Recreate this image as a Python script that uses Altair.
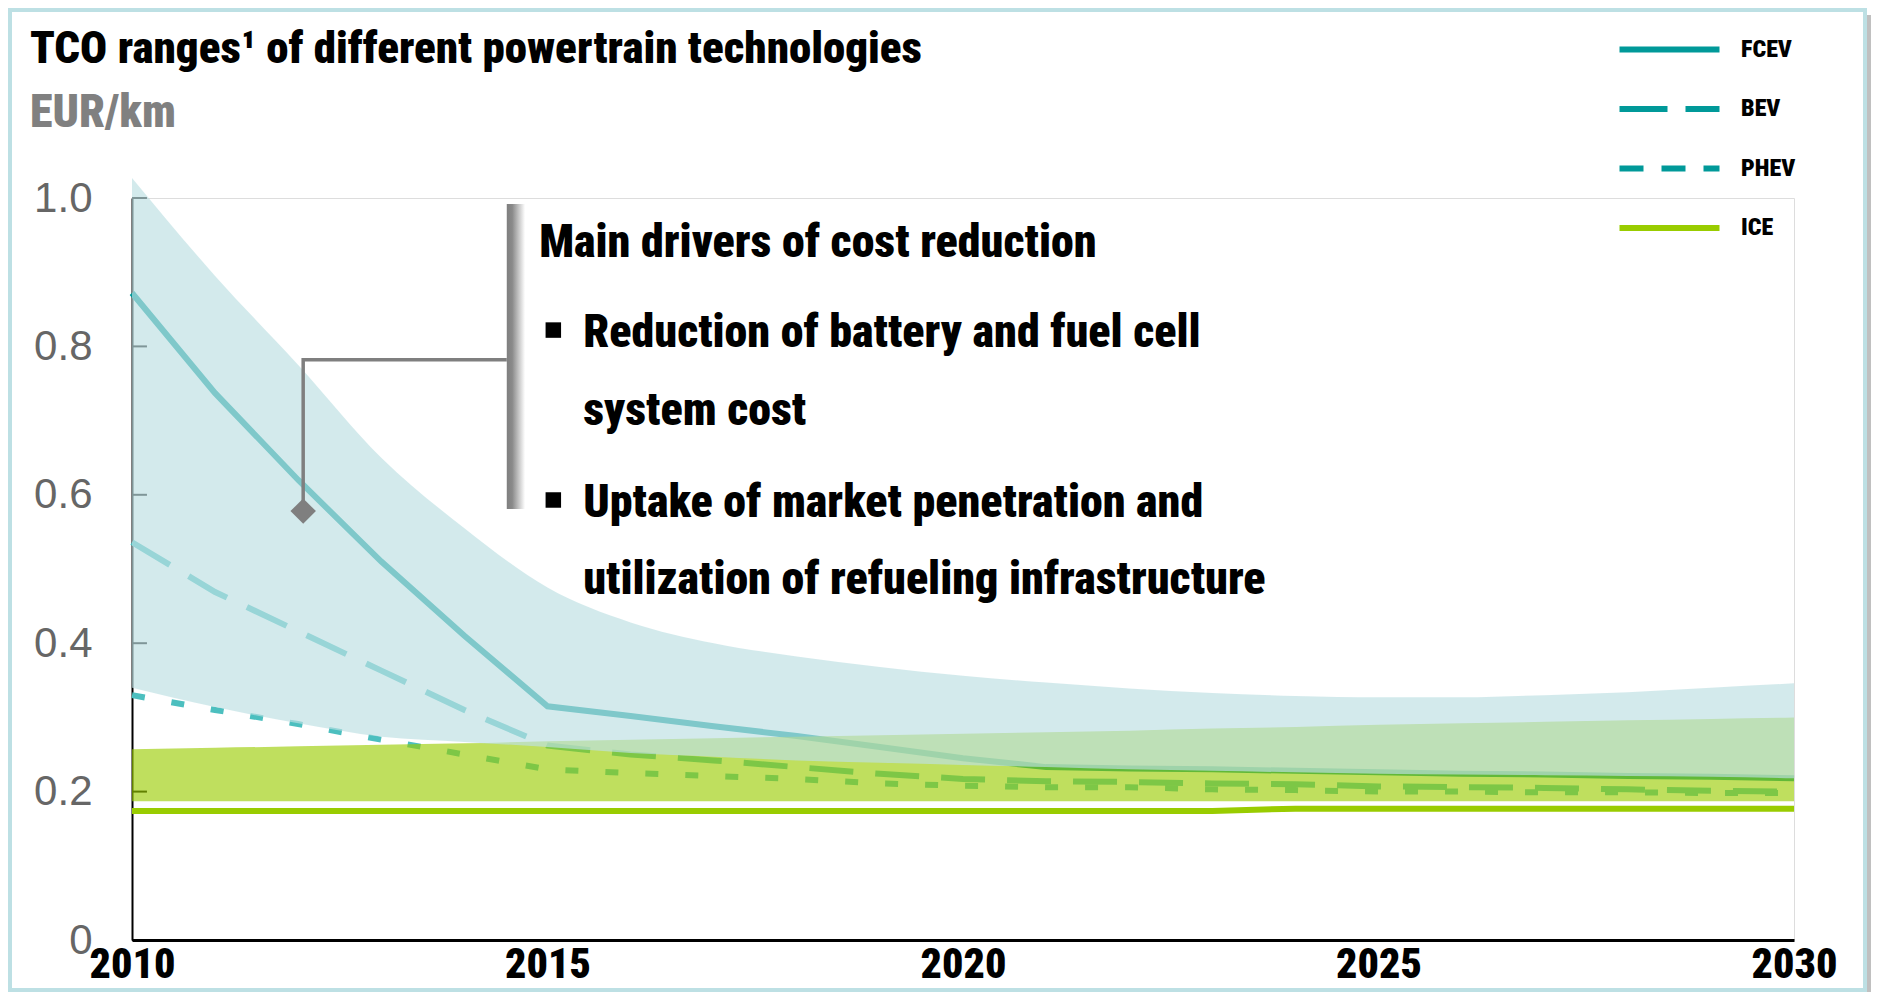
import altair as alt
import pandas as pd

# ---------------- data ----------------
years = [2010, 2011, 2012, 2013, 2014, 2015, 2016, 2017, 2018, 2019, 2020,
         2021, 2022, 2023, 2024, 2025, 2026, 2027, 2028, 2029, 2030]

fcev = [0.872, 0.737, 0.620, 0.510, 0.410, 0.315, 0.302, 0.288, 0.275, 0.260, 0.245,
        0.233, 0.231, 0.230, 0.228, 0.226, 0.224, 0.223, 0.221, 0.220, 0.218]
bev = [0.536, 0.469, 0.416, 0.363, 0.310, 0.262, 0.250, 0.242, 0.233, 0.224, 0.217,
       0.214, 0.213, 0.211, 0.210, 0.207, 0.206, 0.205, 0.203, 0.201, 0.200]
phev = [0.330, 0.310, 0.291, 0.270, 0.250, 0.230, 0.225, 0.221, 0.217, 0.211, 0.208,
        0.206, 0.206, 0.203, 0.202, 0.200, 0.200, 0.199, 0.199, 0.198, 0.198]
ice = [0.174, 0.174, 0.174, 0.174, 0.174, 0.174, 0.174, 0.174, 0.174, 0.174, 0.174,
       0.174, 0.174, 0.174, 0.177, 0.177, 0.177, 0.177, 0.177, 0.177, 0.177]

# ranges (bands)
ev_high = [1.027, 0.895, 0.775, 0.650, 0.555, 0.475, 0.428, 0.400, 0.382, 0.368, 0.356,
           0.347, 0.339, 0.333, 0.329, 0.327, 0.327, 0.330, 0.334, 0.340, 0.346]
ev_low = [0.340, 0.314, 0.292, 0.274, 0.267, 0.260, 0.252, 0.247, 0.242, 0.239, 0.236,
          0.233, 0.230, 0.228, 0.226, 0.224, 0.223, 0.222, 0.221, 0.220, 0.218]
ice_high = [0.257, 0.259, 0.261, 0.263, 0.265, 0.268, 0.270, 0.272, 0.274, 0.276, 0.278,
            0.280, 0.282, 0.285, 0.287, 0.290, 0.292, 0.294, 0.296, 0.298, 0.300]
ice_low = [0.187, 0.187, 0.187, 0.187, 0.187, 0.187, 0.187, 0.187, 0.187, 0.187, 0.187,
           0.187, 0.187, 0.187, 0.187, 0.187, 0.187, 0.187, 0.187, 0.187, 0.187]

series_names = ["FCEV", "BEV", "PHEV", "ICE"]
legend_colors = ["#009999", "#009999", "#009999", "#99cc00"]

x_ticks = [2010, 2015, 2020, 2025, 2030]
y_ticks = [0.0, 0.2, 0.4, 0.6, 0.8, 1.0]

# annotation (data coordinates)
ann_title = ["Main drivers of cost reduction"]
ann_title_pos = [(2014.9, 0.940)]
bullet_pos = [(2015.07, 0.822), (2015.07, 0.593)]
bullet_lines = ["Reduction of battery and fuel cell", "system cost",
                "Uptake of market penetration and", "utilization of refueling infrastructure"]
bullet_line_y = [0.818, 0.713, 0.589, 0.485]
bullet_text_x = 2015.43
connector_x = [2014.51, 2012.06, 2012.06]
connector_y = [0.782, 0.782, 0.585]
marker_pos = [(2012.06, 0.578)]
bar_x = [2014.51, 2014.73]
bar_y = [0.581, 0.992]

# ---------------- tables ----------------
lines_df = pd.DataFrame({
    "year": years * 4,
    "value": fcev + bev + phev + ice,
    "series": ["FCEV"] * len(years) + ["BEV"] * len(years) + ["PHEV"] * len(years) + ["ICE"] * len(years),
})
bands_df = pd.DataFrame({"year": years, "ev_low": ev_low, "ev_high": ev_high,
                         "ice_low": ice_low, "ice_high": ice_high})
yt_df = pd.DataFrame({"v": y_ticks, "x0": [2010] * len(y_ticks), "x1": [2010.18] * len(y_ticks)})

COND = "'Noto Sans Condensed', 'Noto Sans ExtraCondensed', 'Roboto Condensed', Roboto, sans-serif"
REG = "Liberation Sans, Arial, sans-serif"
HEAVY = 900

xscale = alt.Scale(domain=[2010, 2030], nice=False, zero=False)
yscale = alt.Scale(domain=[0, 1], nice=False, zero=True)
xaxis = alt.Axis(values=x_ticks, format="d", title=None, grid=False, ticks=False, tickSize=0,
                 labelFont=COND, labelFontWeight=HEAVY, labelFontSize=42, labelColor="black",
                 labelPadding=4, labelFlush=False, labelOverlap=False,
                 domainColor="black", domainWidth=3)
yaxis = alt.Axis(values=y_ticks, title=None, grid=False, ticks=False, tickSize=0,
                 labelExpr="datum.value == 0 ? '0' : format(datum.value, '.1f')",
                 labelFont=REG, labelFontSize=42, labelColor="#666666", labelPadding=40,
                 domainColor="black", domainWidth=2)


def X(f):
    return alt.X(f, type="quantitative", scale=xscale, axis=xaxis)


def Y(f):
    return alt.Y(f, type="quantitative", scale=yscale, axis=yaxis)


one = pd.DataFrame({"k": [0]})

# frame decoration
frame = alt.Chart(one).mark_rect(fillOpacity=0, stroke="#bde0e4", strokeWidth=4).encode(
    x=alt.value(-122), x2=alt.value(1733), y=alt.value(-188), y2=alt.value(792))
shadow = alt.Chart(one).mark_rect(color="#c0c0c0").encode(
    x=alt.value(1735), x2=alt.value(1739), y=alt.value(-183), y2=alt.value(794))

inner_ticks = alt.Chart(yt_df).mark_rule(color="black", strokeWidth=2).encode(
    x=X("x0"), x2="x1", y=Y("v"))

base_lines = alt.Chart(lines_df)
fcev_line = base_lines.transform_filter("datum.series == 'FCEV'").mark_line(
    color="#009999", strokeWidth=6).encode(x=X("year"), y=Y("value"))
bev_line = base_lines.transform_filter("datum.series == 'BEV'").mark_line(
    color="#4cbfbf", strokeWidth=6, strokeDash=[44, 22]).encode(x=X("year"), y=Y("value"))
phev_line = base_lines.transform_filter("datum.series == 'PHEV'").mark_line(
    color="#4cbfbf", strokeWidth=6, strokeDash=[13, 27]).encode(x=X("year"), y=Y("value"))
ice_line = base_lines.transform_filter("datum.series == 'ICE'").mark_line(
    color="#99cc00", strokeWidth=6).encode(x=X("year"), y=Y("value"))

ice_band = alt.Chart(bands_df).mark_area(color="#99cc00", opacity=0.63, interpolate="monotone").encode(
    x=X("year"), y=Y("ice_low"), y2="ice_high")
ev_band = alt.Chart(bands_df).mark_area(color="rgb(190,224,227)", opacity=0.67, interpolate="monotone").encode(
    x=X("year"), y=Y("ev_low"), y2="ev_high")

leg = alt.Legend(title=None, orient="none", legendX=1522, legendY=-164, padding=0,
                 symbolType="M-4,0H4", symbolSize=625, symbolStrokeWidth=6, symbolOpacity=1,
                 labelFont=COND, labelFontWeight=HEAVY, labelFontSize=24, labelColor="black",
                 labelOffset=56, rowPadding=31.5, direction="vertical", columns=1)
legend_layer = base_lines.mark_line(opacity=0).encode(
    x=X("year"), y=Y("value"),
    color=alt.Color("series:N", scale=alt.Scale(domain=series_names, range=legend_colors), legend=leg),
    strokeDash=alt.StrokeDash("series:N", scale=alt.Scale(domain=series_names,
                              range=[[1, 0], [48, 18], [24, 18], [1, 0]]), legend=leg),
)

# annotation
bar_df = pd.DataFrame({"x0": [bar_x[0]], "x1": [bar_x[1]], "y0": [bar_y[0]], "y1": [bar_y[1]]})
grad = alt.LinearGradient(gradient="linear", x1=0, x2=1, y1=0, y2=0,
                          stops=[alt.GradientStop(color="#7f7f7f", offset=0),
                                 alt.GradientStop(color="#8a8a8a", offset=0.3),
                                 alt.GradientStop(color="#ffffff", offset=1)])
bar = alt.Chart(bar_df).mark_rect(color=grad).encode(x=X("x0"), x2="x1", y=Y("y0"), y2="y1")

conn_df = pd.DataFrame({"x": connector_x, "y": connector_y, "o": [0, 1, 2]})
connector = alt.Chart(conn_df).mark_line(color="#7f7f7f", strokeWidth=3.5).encode(
    x=X("x"), y=Y("y"), order="o:Q")
marker_df = pd.DataFrame({"x": [p[0] for p in marker_pos], "y": [p[1] for p in marker_pos]})
marker = alt.Chart(marker_df).mark_point(shape="diamond", filled=True, size=650,
                                         color="#7f7f7f", opacity=1).encode(x=X("x"), y=Y("y"))

title_df = pd.DataFrame({"x": [p[0] for p in ann_title_pos], "y": [p[1] for p in ann_title_pos], "t": ann_title})
ann_head = alt.Chart(title_df).mark_text(align="left", baseline="middle", font=COND, fontWeight=HEAVY,
                                         fontSize=46, color="black").encode(x=X("x"), y=Y("y"), text="t:N")
bul_df = pd.DataFrame({"x": [p[0] for p in bullet_pos], "y": [p[1] for p in bullet_pos]})
bullets = alt.Chart(bul_df).mark_point(shape="square", filled=True, size=240, color="black",
                                       opacity=1).encode(x=X("x"), y=Y("y"))
bt_df = pd.DataFrame({"x": [bullet_text_x] * len(bullet_lines), "y": bullet_line_y, "t": bullet_lines})
bullet_text = alt.Chart(bt_df).mark_text(align="left", baseline="middle", font=COND, fontWeight=HEAVY,
                                         fontSize=46, color="black").encode(x=X("x"), y=Y("y"), text="t:N")

chart = alt.layer(
    frame, shadow, inner_ticks, fcev_line, bev_line, phev_line, ice_band, ev_band, ice_line,
    legend_layer, bar, connector, marker, ann_head, bullets, bullet_text,
).properties(
    width=1662, height=742,
    autosize=alt.AutoSizeParams(type="none"),
    padding={"left": 124, "top": 190, "right": 77, "bottom": 52},
    title=alt.TitleParams(
        text="TCO ranges¹ of different powertrain technologies",
        subtitle="EUR/km", anchor="start", frame="group", dx=-102, dy=128, offset=0,
        font=COND, fontSize=45, fontWeight=HEAVY, color="black",
        subtitleFont=COND, subtitleFontSize=46, subtitleFontWeight=HEAVY,
        subtitleColor="#808080", subtitlePadding=19),
).configure_view(stroke=None).configure(background="white")

chart.save("out.html", embed_options={"renderer": "svg", "actions": False})
